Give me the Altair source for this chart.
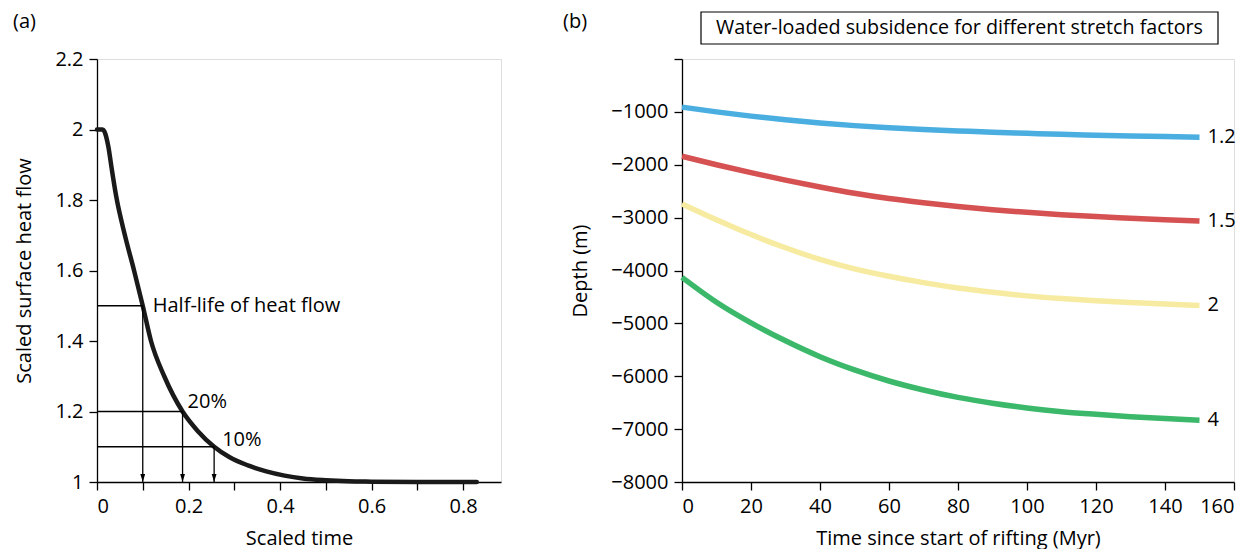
import altair as alt
import pandas as pd

FONT = "Open Sans"

# ---------------- Panel (a): scaled surface heat flow ----------------
t_a = [0, 0.012, 0.016, 0.02, 0.025, 0.032, 0.042, 0.061, 0.081, 0.1, 0.118, 0.147, 0.187,
       0.22, 0.256, 0.29, 0.33, 0.37, 0.41, 0.45, 0.5, 0.55, 0.6, 0.7, 0.83]
q_a = [2.0, 2.0, 1.995, 1.98, 1.95, 1.89, 1.81, 1.70, 1.60, 1.50, 1.40, 1.30, 1.20,
       1.145, 1.10, 1.07, 1.047, 1.03, 1.018, 1.01, 1.005, 1.002, 1.001, 1.0, 1.0]

levels_q = [1.5, 1.2, 1.1]
levels_t = [0.1, 0.187, 0.256]
levels_text = ["Half-life of heat flow", "20%", "10%"]
text_dx = [10, 5, 8]
text_dy = [0, -10, -7]

# ---------------- Panel (b): water-loaded subsidence ----------------
time_b = [0, 10, 20, 30, 40, 50, 60, 70, 80, 90, 100, 110, 120, 130, 140, 150]
depth_12 = [-910, -1000, -1080, -1150, -1210, -1260, -1300, -1335, -1360, -1385,
            -1405, -1425, -1440, -1455, -1465, -1478]
depth_15 = [-1840, -2000, -2150, -2290, -2420, -2540, -2640, -2720, -2790, -2850,
            -2900, -2945, -2980, -3010, -3040, -3065]
depth_2 = [-2740, -3040, -3320, -3570, -3790, -3970, -4110, -4230, -4330, -4410,
           -4480, -4530, -4570, -4605, -4635, -4660]
depth_4 = [-4130, -4600, -4990, -5330, -5630, -5880, -6090, -6260, -6400, -6510,
           -6600, -6670, -6720, -6765, -6800, -6830]
stretch = ["1.2", "1.5", "2", "4"]
colors = ["#4aaee0", "#d65252", "#f6eba0", "#3bb86a"]

# ---------------- build tables ----------------
curve_df = pd.DataFrame({"t": t_a, "q": q_a})
lev_df = pd.DataFrame({"t": levels_t, "q": levels_q, "t0": [0] * 3, "q0": [1.0] * 3,
                       "label": levels_text})

rows = []
for s, arr in zip(stretch, [depth_12, depth_15, depth_2, depth_4]):
    for t, d in zip(time_b, arr):
        rows.append({"time": t, "depth": d, "beta": s})
sub_df = pd.DataFrame(rows)
end_df = sub_df[sub_df["time"] == time_b[-1]]

AX = dict(domainColor="black", tickColor="black", domainWidth=1.3, tickWidth=1.3,
          tickSize=8, labelFontSize=20, titleFontSize=20, labelColor="black",
          titleColor="black", labelFont=FONT, titleFont=FONT, grid=False,
          titleFontWeight="normal", labelPadding=6)

W_A, W_B, H = 404, 552, 423

xa = alt.X("t:Q", scale=alt.Scale(domain=[0, 0.883], nice=False),
           axis=alt.Axis(title="Scaled time", values=[0, 0.1, 0.2, 0.3, 0.4, 0.5, 0.6, 0.7, 0.8],
                         labelExpr="round(datum.value*10)%2==0 ? format(datum.value,'') : ''",
                         titlePadding=12, **AX))
ya = alt.Y("q:Q", scale=alt.Scale(domain=[1, 2.2], nice=False),
           axis=alt.Axis(title="Scaled surface heat flow", values=[1, 1.2, 1.4, 1.6, 1.8, 2.0, 2.2],
                         labelExpr="format(datum.value,'')", titlePadding=20, **AX))

hlines = alt.Chart(lev_df).mark_rule(color="black", strokeWidth=1.3).encode(
    x="t0:Q", x2="t:Q", y="q:Q")
vlines = alt.Chart(lev_df).mark_rule(color="black", strokeWidth=1.3).encode(
    x="t:Q", y="q:Q", y2="q0:Q")
heads = alt.Chart(lev_df).mark_point(shape="M-0.6,-2L0.6,-2L0,0Z", filled=True, opacity=1,
                                     color="black", size=64).encode(x="t:Q", y="q0:Q")
curve = alt.Chart(curve_df).mark_line(color="#1a1a1a", strokeWidth=4.5, strokeCap="round",
                                      strokeJoin="round", interpolate="monotone").encode(x=xa, y=ya)
texts = []
for i in range(3):
    texts.append(alt.Chart(lev_df.iloc[[i]]).mark_text(
        align="left", baseline="middle", fontSize=20, font=FONT, color="black",
        dx=text_dx[i], dy=text_dy[i]).encode(x="t:Q", y="q:Q", text="label:N"))
tag_a = alt.Chart(pd.DataFrame({"lab": ["(a)"]})).mark_text(
    align="left", baseline="middle", fontSize=20, font=FONT, color="black").encode(
    x=alt.value(-84), y=alt.value(-37), text="lab:N")

left = alt.layer(curve, hlines, vlines, heads, *texts, tag_a).properties(width=W_A, height=H)

# ---------------- right ----------------
xb = alt.X("time:Q", scale=alt.Scale(domain=[0, 160], nice=False),
           axis=alt.Axis(title="Time since start of rifting (Myr)", values=list(range(0, 161, 20)),
                         titlePadding=12, **AX))
yb = alt.Y("depth:Q", scale=alt.Scale(domain=[-8000, 0], nice=False),
           axis=alt.Axis(title="Depth (m)", values=list(range(-8000, 1, 1000)),
                         labelExpr="datum.value == 0 ? '' : format(datum.value, 'd')",
                         titlePadding=20, **AX))
cscale = alt.Scale(domain=stretch, range=colors)
lines = alt.Chart(sub_df).mark_line(strokeWidth=5.5, interpolate="monotone").encode(
    x=xb, y=yb, color=alt.Color("beta:N", scale=cscale, legend=None), detail="beta:N")
end_lab = alt.Chart(end_df).mark_text(align="left", baseline="middle", dx=8, fontSize=20,
                                      font=FONT, color="black").encode(
    x="time:Q", y="depth:Q", text="beta:N")
box = alt.Chart(pd.DataFrame({"a": [1]})).mark_rect(fill="white", stroke="black",
                                                     strokeWidth=1.2).encode(
    x=alt.value(19), x2=alt.value(536), y=alt.value(-47), y2=alt.value(-15))
box_text = alt.Chart(pd.DataFrame({"lab": ["Water-loaded subsidence for different stretch factors"]})).mark_text(
    align="center", baseline="middle", fontSize=19.7, font=FONT, color="black").encode(
    x=alt.value(277.5), y=alt.value(-31), text="lab:N")
tag_b = alt.Chart(pd.DataFrame({"lab": ["(b)"]})).mark_text(
    align="left", baseline="middle", fontSize=20, font=FONT, color="black").encode(
    x=alt.value(-119), y=alt.value(-37), text="lab:N")

right = alt.layer(lines, end_lab, box, box_text, tag_b).properties(width=W_B, height=H)

chart = alt.hconcat(left, right, spacing=60).properties(
    padding={"left": 4, "top": 2, "right": 0, "bottom": 0}
).configure_view(stroke=None).configure(background="white")

chart.save("out.html", embed_options={"renderer": "svg", "actions": False})
